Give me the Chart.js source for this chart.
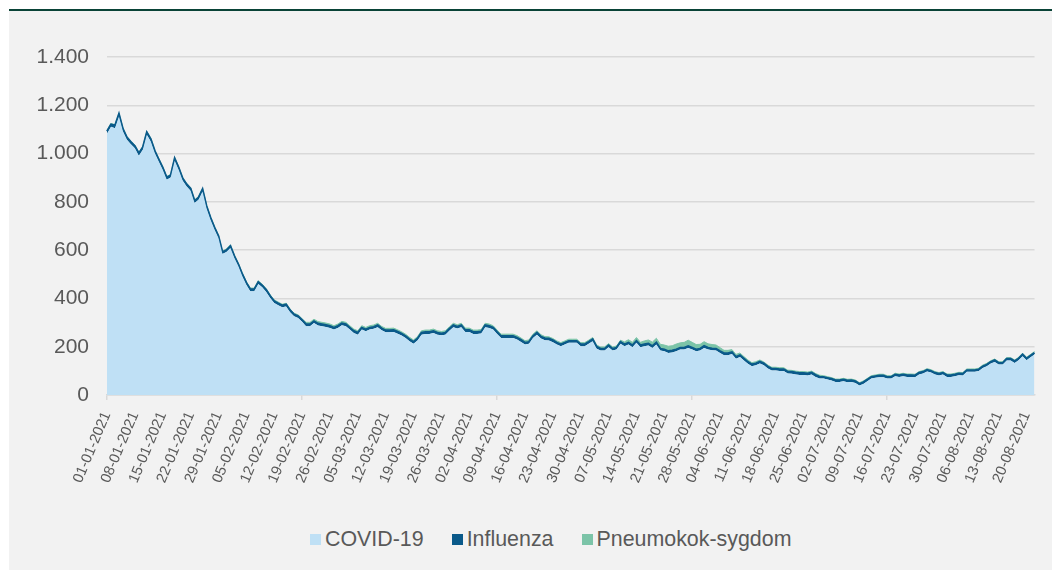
<!DOCTYPE html>
<html>
<head>
<meta charset="utf-8">
<script src="https://cdn.jsdelivr.net/npm/chart.js@4/dist/chart.umd.min.js"></script>
<style>
  body { margin: 0; background: #ffffff; font-family: "Liberation Sans", Arial, sans-serif; }
  #frame {
    position: absolute; left: 9px; top: 9px; width: 1043px; height: 561px;
    background: #f2f2f2; border-top: 2px solid #0a4337; box-sizing: border-box;
  }
  #chart { position: absolute; left: 0; top: 0; }
  #legend {
    position: absolute; left: 301px; top: 516px;
    display: flex; align-items: center; font-size: 21.4px; color: #595959;
  }
  .legend-item { display: flex; align-items: center; margin-right: 28px; }
  .legend-box { width: 11px; height: 11px; margin-right: 4px; }
</style>
</head>
<body>
<div id="frame">
  <canvas id="chart" width="1043" height="484" style="width:1043px;height:484px"></canvas>
  <div id="legend"></div>
</div>
<script>
// daily values, 01-01-2021 .. 22-08-2021
const covid = [
  1082,1111,1105,1154,1092,1057,1039,1022,991,1016,
  1078,1050,1002,967,933,892,901,970,933,888,
  864,846,795,809,843,774,726,686,650,584,
  592,609,567,533,492,457,430,430,460,446,
  427,402,381,372,363,367,343,326,319,303,
  285,285,298,288,285,282,278,271,278,289,
  285,271,257,250,271,264,271,274,281,268,
  260,260,261,254,246,236,223,212,226,250,
  253,253,257,250,247,250,266,281,275,281,
  261,261,253,253,255,281,278,271,253,236,
  236,236,236,230,220,209,212,236,250,234,
  227,226,219,209,202,209,216,216,216,202,
  202,212,223,192,184,184,198,184,188,212,
  202,209,198,216,198,202,205,195,209,184,
  181,174,176,181,188,188,195,188,181,184,
  195,188,185,184,174,165,165,170,150,157,
  143,129,119,123,130,123,110,101,101,99,
  99,89,88,85,83,83,81,85,75,68,
  68,64,60,54,54,57,53,54,50,39,
  46,57,68,71,74,74,68,68,78,75,
  78,75,75,74,85,89,97,93,85,81,
  85,75,75,78,82,81,96,96,96,99,
  112,119,130,137,126,126,143,143,133,144,
  161,144,156,168
];

const influenza = [
  10,10,11,10,10,10,9,9,10,10,
  10,10,9,9,9,9,9,10,9,9,
  9,9,9,9,9,9,9,8,8,8,
  8,8,8,8,8,8,8,8,8,8,
  8,8,8,8,8,8,8,8,8,8,
  8,8,8,8,8,8,8,8,8,8,
  8,8,8,8,8,8,8,8,8,8,
  8,8,8,8,8,8,8,8,8,8,
  8,8,8,8,8,8,8,8,8,8,
  8,8,8,8,8,8,8,8,8,8,
  8,8,8,8,8,8,8,8,8,8,
  8,8,8,8,8,8,8,8,8,8,
  8,8,8,8,8,8,8,8,8,8,
  8,8,8,8,8,8,8,8,8,8,
  8,8,8,8,8,8,8,8,8,8,
  8,8,8,8,8,8,8,8,8,8,
  8,8,8,8,8,8,8,8,8,8,
  8,8,8,8,8,8,8,8,8,8,
  7,7,7,7,7,7,7,7,7,7,
  7,7,7,7,7,7,7,7,7,7,
  7,7,7,7,7,7,7,7,7,7,
  7,7,7,7,7,7,7,7,7,7,
  7,7,7,7,7,7,7,7,7,7,
  7,7,7,7
];

const pneumokok = [
  4,4,4,4,4,4,4,4,4,4,
  4,4,4,4,4,4,4,4,4,4,
  4,4,4,4,4,4,4,4,4,4,
  5,5,5,5,5,5,5,5,5,5,
  5,5,5,5,5,5,5,5,5,5,
  8,8,8,8,8,8,8,8,8,8,
  8,8,8,8,8,8,8,8,8,8,
  8,8,8,8,8,8,8,8,8,8,
  8,8,8,8,8,8,8,8,8,8,
  8,8,8,8,8,8,8,8,8,8,
  8,8,8,8,8,8,8,8,8,8,
  7,7,7,7,7,7,7,7,7,7,
  7,7,7,7,7,7,7,7,7,7,
  10,12,12,14,12,14,15,16,18,18,
  18,20,20,22,20,22,24,22,20,18,
  18,16,16,15,14,12,12,10,10,9,
  8,8,7,7,7,6,6,6,6,6,
  6,6,6,6,6,6,6,6,6,6,
  5,5,5,5,5,5,5,5,5,5,
  5,5,5,5,5,5,5,5,5,5,
  5,5,5,5,5,5,5,5,5,5,
  5,5,5,5,5,5,5,5,5,5,
  5,5,5,5,5,5,5,5,5,5,
  5,5,5,5
];

const seriesNames = ["COVID-19", "Influenza", "Pneumokok-sygdom"];
const seriesColors = ["#bfe0f5", "#0b5a8a", "#7cc4a8"];
const yTicks = [0, 200, 400, 600, 800, 1000, 1200, 1400];

// one category per day, a tick every 7th day
const dayLabels = [];
for (let i = 0; i < covid.length; i++) {
  const d = new Date(2021, 0, 1 + i);
  const dd = String(d.getDate()).padStart(2, "0");
  const mm = String(d.getMonth() + 1).padStart(2, "0");
  dayLabels.push(dd + "-" + mm + "-" + d.getFullYear());
}

const textColor = "#595959";
const gridColor = "#d9d9d9";

function thousands(v) {
  return String(v).replace(/\B(?=(\d{3})+(?!\d))/g, ".");
}

new Chart(document.getElementById("chart"), {
  type: "line",
  data: {
    labels: dayLabels,
    datasets: [
      { label: seriesNames[0], data: covid, backgroundColor: seriesColors[0], borderWidth: 0, fill: "origin" },
      { label: seriesNames[1], data: influenza, backgroundColor: seriesColors[1], borderColor: seriesColors[1], borderWidth: 2, fill: "-1" },
      { label: seriesNames[2], data: pneumokok, backgroundColor: seriesColors[2], borderColor: seriesColors[2], borderWidth: 1, fill: "-1" }
    ]
  },
  options: {
    responsive: false,
    animation: false,
    devicePixelRatio: 1,
    layout: { padding: { top: 46, right: 11, left: 0, bottom: 0 } },
    elements: { point: { radius: 0 }, line: { tension: 0 } },
    plugins: {
      legend: { display: false },
      tooltip: { enabled: false }
    },
    scales: {
      x: {
        offset: false,
        afterFit: s => { s.height = 100; },
        grid: {
          drawOnChartArea: false,
          drawTicks: true,
          tickLength: 5,
          lineWidth: 1.5,
          color: ctx => ctx.index % 7 === 0 ? gridColor : "rgba(0,0,0,0)",
          tickColor: ctx => ctx.index % 7 === 0 ? gridColor : "rgba(0,0,0,0)"
        },
        border: { color: gridColor, width: 1.5 },
        ticks: {
          autoSkip: false,
          minRotation: 67,
          maxRotation: 67,
          padding: 9,
          color: textColor,
          font: { family: "Liberation Sans", size: 14.8 },
          callback: (v, i) => i % 7 === 0 ? dayLabels[i] : null
        }
      },
      y: {
        stacked: true,
        min: 0,
        max: 1400,
        afterFit: s => { s.width = 98; },
        afterBuildTicks: s => { s.ticks = yTicks.map(v => ({ value: v })); },
        grid: { color: gridColor, lineWidth: 1.5, drawTicks: false },
        border: { display: false },
        ticks: {
          padding: 18,
          color: textColor,
          font: { family: "Liberation Sans", size: 21 },
          callback: v => thousands(v)
        }
      }
    }
  }
});

// legend as plain html, boxes like the office legend
const legend = document.getElementById("legend");
seriesNames.forEach((name, i) => {
  const item = document.createElement("div");
  item.className = "legend-item";
  item.innerHTML = `<span class="legend-box" style="background:${seriesColors[i]}"></span><span>${name}</span>`;
  legend.appendChild(item);
});
</script>
</body>
</html>
